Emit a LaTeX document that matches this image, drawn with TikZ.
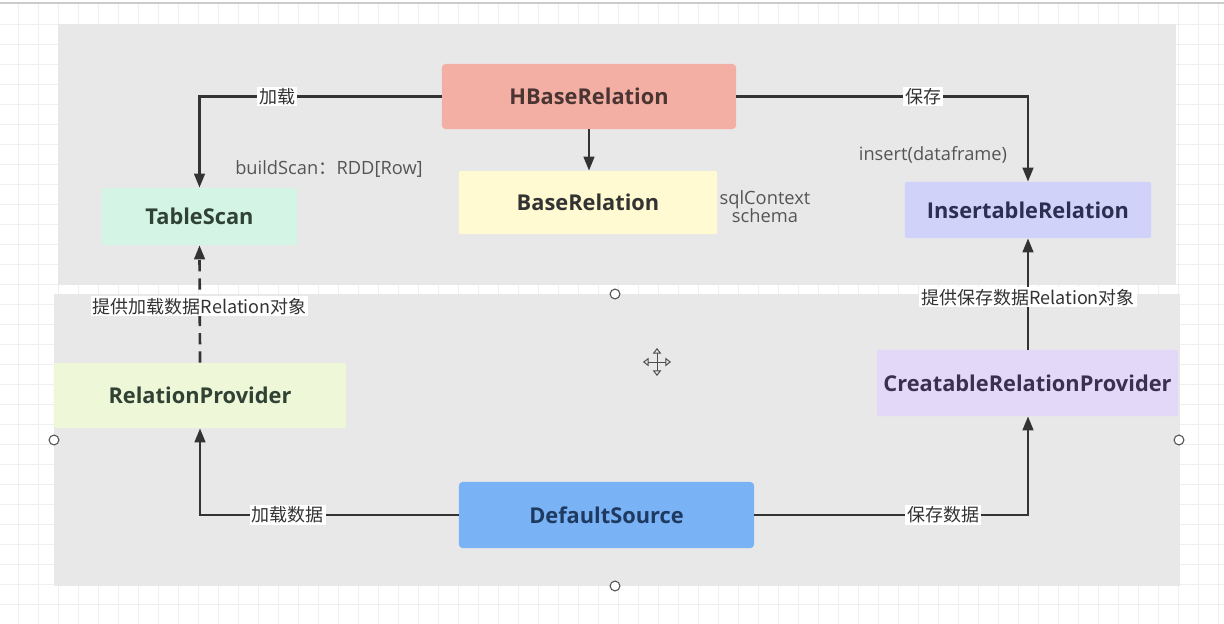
\documentclass[tikz,border=0pt]{standalone}
\usepackage{fontspec}
\setmainfont{Open Sans}
\newfontfamily\cjk{Noto Sans CJK SC}
\usetikzlibrary{arrows.meta}
\definecolor{panel}{HTML}{E8E8E8}
\definecolor{gridc}{HTML}{EFEFEF}
\definecolor{linec}{HTML}{333333}
\definecolor{hbase}{HTML}{F3AFA4}
\definecolor{base}{HTML}{FFFAD2}
\definecolor{tscan}{HTML}{D4F4E6}
\definecolor{insrel}{HTML}{D0D2F9}
\definecolor{relprov}{HTML}{EEF7D8}
\definecolor{creprov}{HTML}{E3D8F7}
\definecolor{dsrc}{HTML}{79B2F5}
\definecolor{txtc}{HTML}{555555}
\definecolor{t1}{HTML}{4A3532}
\definecolor{t2}{HTML}{2C2F52}
\definecolor{t3}{HTML}{3A3150}
\definecolor{t4}{HTML}{1F3A60}
\definecolor{t5}{HTML}{2F4233}
\tikzset{
  box/.style={rounded corners=2.5pt, inner sep=0pt, font=\fontsize{15.5}{18}\selectfont\bfseries, text=linec},
  conn/.style={draw=linec, line width=1.9pt, -{Triangle[width=7.5pt,length=10pt]}},
  lbl/.style={fill=white, inner sep=1.2pt, font=\cjk\fontsize{12.8}{14}\selectfont, text=linec},
  note/.style={inner sep=0pt, font=\fontsize{13}{15}\selectfont, text=txtc, align=center},
  handle/.style={circle, draw=black!65, fill=white, line width=0.8pt, minimum size=7pt, inner sep=0pt}
}
\begin{document}
\begin{tikzpicture}[x=0.025cm, y=-0.025cm]
\useasboundingbox[fill=white] (0,0) rectangle (1224,624);
% grid
\foreach \i in {18,38,...,1218} \draw[gridc, line width=0.5pt] (\i,4) -- (\i,624);
\foreach \j in {24,44,...,620} \draw[gridc, line width=0.5pt] (0,\j) -- (1224,\j);
\draw[black!20, line width=1pt] (0,3) -- (1224,3);
% panels
\fill[panel] (58,24) rectangle (1176,285);
\fill[panel] (54,294) rectangle (1180,586);
% nodes
\node[box, fill=hbase, minimum width=7.35cm, minimum height=1.625cm, text=t1] (hb) at (589,96.5) {HBaseRelation};
\node[box, fill=base, minimum width=6.45cm, minimum height=1.575cm, rounded corners=1pt] (br) at (588,202.5) {BaseRelation};
\node[box, fill=tscan, minimum width=4.875cm, minimum height=1.425cm, rounded corners=1pt, text=t5] (ts) at (199.5,216.5) {TableScan};
\node[box, fill=insrel, minimum width=6.15cm, minimum height=1.4cm, rounded corners=1pt, text=t2] (ir) at (1028,210) {InsertableRelation};
\node[box, fill=relprov, minimum width=7.3cm, minimum height=1.625cm, rounded corners=1pt, text=t5] (rp) at (200,395.5) {RelationProvider};
\node[box, fill=creprov, minimum width=7.525cm, minimum height=1.65cm, rounded corners=1pt, text=t3] (cp) at (1027.5,383) {CreatableRelationProvider};
\node[box, fill=dsrc, minimum width=7.375cm, minimum height=1.65cm, text=t4] (ds) at (606.5,515) {DefaultSource};
% connectors
\draw[conn] (hb.west) -| node[lbl, pos=0.34] {加载} (ts.north);
\draw[conn] (hb.east) -| node[lbl, pos=0.32] {保存} (ir.north);
\draw[conn] (hb.south) -- (hb.south |- br.north);
\draw[conn, dash pattern=on 8pt off 5pt] (rp.north) -- node[lbl, pos=0.48] {提供加载数据Relation对象} (ts.south);
\draw[conn] (cp.north -| ir.south) -- node[lbl, pos=0.47] {提供保存数据Relation对象} (ir.south);
\draw[conn] (ds.west) -| node[lbl, pos=0.33] {加载数据} (rp.south);
\draw[conn] (ds.east) -| node[lbl, pos=0.345] {保存数据} (cp.south -| ir.south);
% notes
\node[note, anchor=west] (bs) at (235,169) {buildScan{\cjk ：}RDD[Row]};
\node[note] (ins) at (933,155) {insert(dataframe)};
\node[note] (sq) at (765,207) {sqlContext\\[-2pt]schema};
% selection handles
\node[handle] (h1) at (615,294) {};
\node[handle] (h2) at (54,440) {};
\node[handle] (h3) at (1179,440) {};
\node[handle] (h4) at (615,586) {};
% move cursor
\draw[black!70, line width=0.7pt, {Triangle[open,width=6pt,length=4pt]}-{Triangle[open,width=6pt,length=4pt]}] (643,362) -- (671,362);
\draw[black!70, line width=0.7pt, {Triangle[open,width=6pt,length=4pt]}-{Triangle[open,width=6pt,length=4pt]}] (657,348) -- (657,376);
\end{tikzpicture}
\end{document}
